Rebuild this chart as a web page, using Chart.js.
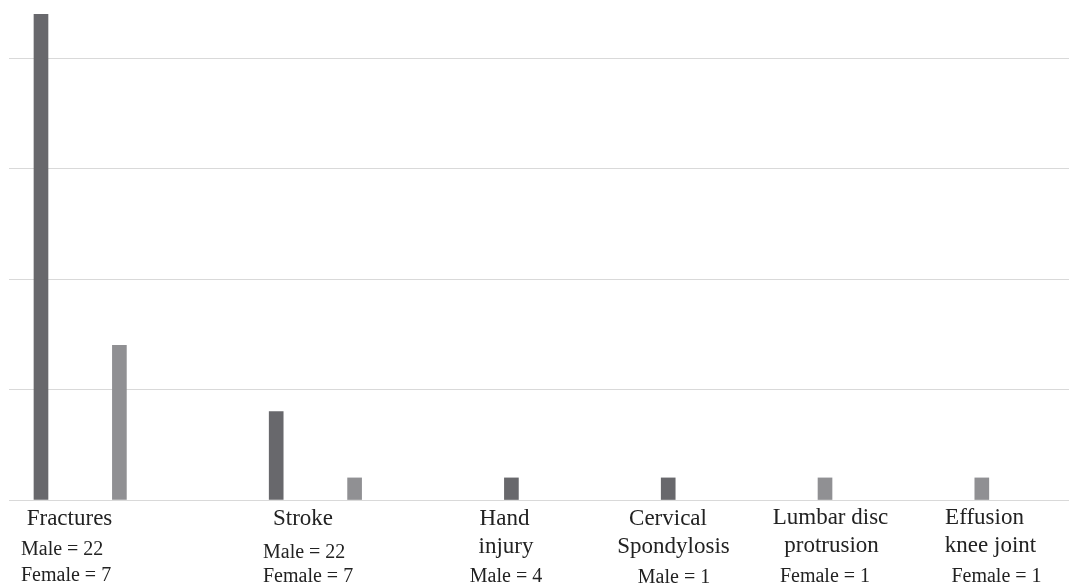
<!DOCTYPE html>
<html>
<head>
<meta charset="utf-8">
<script src="https://cdn.jsdelivr.net/npm/chart.js@4/dist/chart.umd.min.js"></script>
<style>
  html, body { margin: 0; padding: 0; background: #ffffff; }
  canvas { display: block; }
</style>
</head>
<body>
<canvas id="chart" width="1069" height="585"></canvas>
<script>
// Case counts per condition
const categories = ['Fractures', 'Stroke', 'Hand injury', 'Cervical Spondylosis', 'Lumbar disc protrusion', 'Effusion knee joint'];
const maleCases = [22, 4, 1, 1, 0, 0];
const femaleCases = [7, 1, 0, 0, 1, 1];
const yTicks = [0, 5, 10, 15, 20];

// Caption text written under each condition
const captionText = [
  ['Fractures', 'Male = 22', 'Female = 7'],
  ['Stroke', 'Male = 22', 'Female = 7'],
  ['Hand', 'injury', 'Male = 4'],
  ['Cervical', 'Spondylosis', 'Male = 1'],
  ['Lumbar disc', 'protrusion', 'Female = 1'],
  ['Effusion', 'knee joint', 'Female = 1']
];

// Where each caption line sits: [x, baseline, font size, align]
const captionLayout = [
  [[69.5, 525, 23, 'center'], [21, 555, 20, 'left'], [21, 581, 20, 'left']],
  [[303, 525, 23, 'center'], [263, 558, 20, 'left'], [263, 582, 20, 'left']],
  [[504.5, 525, 23, 'center'], [506, 553, 23, 'center'], [506, 582, 20, 'center']],
  [[668, 525, 23, 'center'], [673.5, 553, 23, 'center'], [674, 582.5, 20, 'center']],
  [[830.5, 524, 23, 'center'], [831.5, 552, 23, 'center'], [825, 582, 20, 'center']],
  [[984.5, 524, 23, 'center'], [990.5, 552, 23, 'center'], [996.5, 582, 20, 'center']]
];

// Bars are laid out in consecutive slots: the non-empty bars of a condition
// follow each other, then one empty slot separates conditions.
const malePoints = [];
const femalePoints = [];
let slot = 0;
categories.forEach((name, i) => {
  if (maleCases[i] > 0) { malePoints.push({ x: slot, y: maleCases[i] }); slot++; }
  if (femaleCases[i] > 0) { femalePoints.push({ x: slot, y: femaleCases[i] }); slot++; }
  slot++;
});

const captionPlugin = {
  id: 'captions',
  afterDraw(chart) {
    const ctx = chart.ctx;
    ctx.save();
    ctx.fillStyle = '#222222';
    ctx.textBaseline = 'alphabetic';
    captionText.forEach((lines, i) => {
      lines.forEach((text, j) => {
        const [x, y, size, align] = captionLayout[i][j];
        ctx.font = size + 'px "Liberation Serif", "Times New Roman", serif';
        ctx.textAlign = align;
        ctx.fillText(text, x, y);
      });
    });
    ctx.restore();
  }
};

new Chart(document.getElementById('chart'), {
  type: 'bar',
  data: {
    datasets: [
      { label: 'Male', data: malePoints, backgroundColor: '#68686c', barThickness: 14, grouped: false },
      { label: 'Female', data: femalePoints, backgroundColor: '#909093', barThickness: 14, grouped: false }
    ]
  },
  options: {
    responsive: false,
    animation: false,
    layout: { padding: { left: 9, right: 0, top: 14, bottom: 85 } },
    plugins: { legend: { display: false }, tooltip: { enabled: false } },
    scales: {
      x: {
        type: 'linear',
        min: -0.408,
        max: 13.112,
        offset: false,
        display: false
      },
      y: {
        min: 0,
        max: 22,
        afterBuildTicks(axis) { axis.ticks = yTicks.map(v => ({ value: v })); },
        ticks: { display: false },
        border: { display: false },
        grid: { color: '#d9d9d9', lineWidth: 1, drawTicks: false }
      }
    }
  },
  plugins: [captionPlugin]
});
</script>
</body>
</html>
